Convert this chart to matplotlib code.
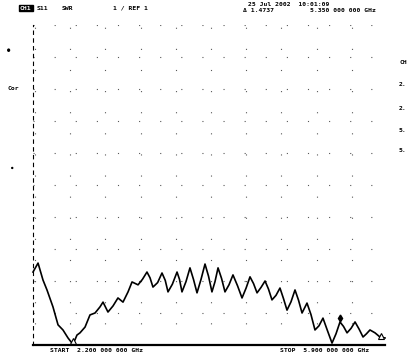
import matplotlib
matplotlib.use("Agg")
import matplotlib.pyplot as plt
from matplotlib.ticker import MultipleLocator

# S11 SWR trace (GHz, SWR)
freq_ghz = [2.200, 2.253, 2.305, 2.347, 2.410, 2.463, 2.515, 2.568, 2.610, 2.641,
            2.662, 2.694, 2.747, 2.799, 2.852, 2.904, 2.936, 2.988, 3.041, 3.093,
            3.146, 3.199, 3.241, 3.304, 3.350, 3.398, 3.430, 3.461, 3.510, 3.556,
            3.590, 3.619, 3.665, 3.714, 3.740, 3.766, 3.808, 3.850, 3.887, 3.924,
            3.966, 4.008, 4.045, 4.081, 4.113, 4.145, 4.182, 4.218, 4.260, 4.302,
            4.350, 4.397, 4.440, 4.481, 4.518, 4.555, 4.597, 4.639, 4.675, 4.712,
            4.754, 4.796, 4.833, 4.870, 4.912, 4.954, 4.991, 5.028, 5.080, 5.122,
            5.164, 5.206, 5.248, 5.295, 5.343, 5.385, 5.427, 5.464, 5.501, 5.543,
            5.585, 5.627, 5.669, 5.705, 5.742, 5.795, 5.847, 5.900]
swr = [3.28, 3.56, 3.03, 2.72, 2.19, 1.63, 1.47, 1.22, 1.06, 1.16,
       1.31, 1.38, 1.56, 1.94, 2.00, 2.19, 2.34, 2.03, 2.22, 2.47,
       2.34, 2.66, 2.97, 2.88, 3.05, 3.28, 3.10, 2.81, 2.95, 3.25,
       3.02, 2.66, 2.90, 3.28, 3.05, 2.66, 2.98, 3.41, 3.05, 2.63,
       3.05, 3.53, 3.15, 2.66, 2.98, 3.41, 3.08, 2.66, 2.88, 3.19,
       2.85, 2.47, 2.78, 3.13, 2.92, 2.63, 2.80, 3.00, 2.75, 2.41,
       2.55, 2.78, 2.45, 2.09, 2.35, 2.72, 2.40, 2.00, 2.31, 1.95,
       1.47, 1.60, 1.84, 1.45, 1.06, 1.35, 1.72, 1.58, 1.38, 1.52,
       1.72, 1.50, 1.25, 1.35, 1.47, 1.38, 1.25, 1.22]

# marker symbols on the trace
delta_freq = [2.620, 5.860]
delta_swr = [1.12, 1.28]
active_freq = [5.427]
active_swr = [1.85]

start_label = "START  2.200 000 000 GHz"
stop_label = "STOP  5.900 000 000 GHz"
side_labels = ["CH", "2.", "2.", "5.", "5."]

W, H = 417, 356
fig = plt.figure(figsize=(W / 100, H / 100), dpi=100)
fig.patch.set_facecolor("white")
ax = fig.add_axes([33 / W, 1 - 345 / H, 352 / W, 320 / H])
ax.set_facecolor("white")

ax.set_xlim(2.2, 5.9)
ax.set_ylim(1, 11)
ax.xaxis.set_major_locator(MultipleLocator(0.37))
ax.yaxis.set_major_locator(MultipleLocator(1))
ax.tick_params(length=0, labelbottom=False, labelleft=False)
ax.grid(True, color="0.35", linestyle=(0, (1, 18)), linewidth=0.8)
for s in ("top", "right"):
    ax.spines[s].set_visible(False)
ax.spines["left"].set_linestyle((0, (3, 4)))
ax.spines["left"].set_linewidth(0.8)
ax.spines["bottom"].set_linewidth(1.6)

ax.plot(freq_ghz, swr, color="black", linewidth=1.2, clip_on=False)
ax.plot(delta_freq, delta_swr, linestyle="none", marker="^", markersize=4,
        markerfacecolor="white", markeredgecolor="black", markeredgewidth=0.8)
ax.plot(active_freq, active_swr, linestyle="none", marker="d", markersize=3.5,
        color="black")

mono = dict(family="DejaVu Sans Mono", fontsize=4.6, fontweight="bold", color="black")


def put(x, y, s, **kw):
    fig.text(x / W, 1 - y / H, s, va="center", **{**mono, **kw})


put(20, 8, "CH1", color="white",
    bbox=dict(boxstyle="square,pad=0.15", facecolor="black", edgecolor="black"))
put(37, 8, "S11")
put(62, 8, "SWR")
put(113, 8, "1 / REF 1")
put(248, 4, "25 Jul 2002  10:01:09")
put(243, 11, "\u0394 1.4737")
put(310, 11, "5.350 000 000 GHz")
put(7, 50, "\u25cf", fontsize=4)
put(7, 88, "Cor")
put(11, 168, "\u25cf", fontsize=3)
for lbl, y in zip(side_labels, [63, 84, 108, 131, 151]):
    put(399, y, lbl)
put(50, 351, start_label)
put(280, 351, stop_label)

fig.savefig("out.png", dpi=100, facecolor="white")
